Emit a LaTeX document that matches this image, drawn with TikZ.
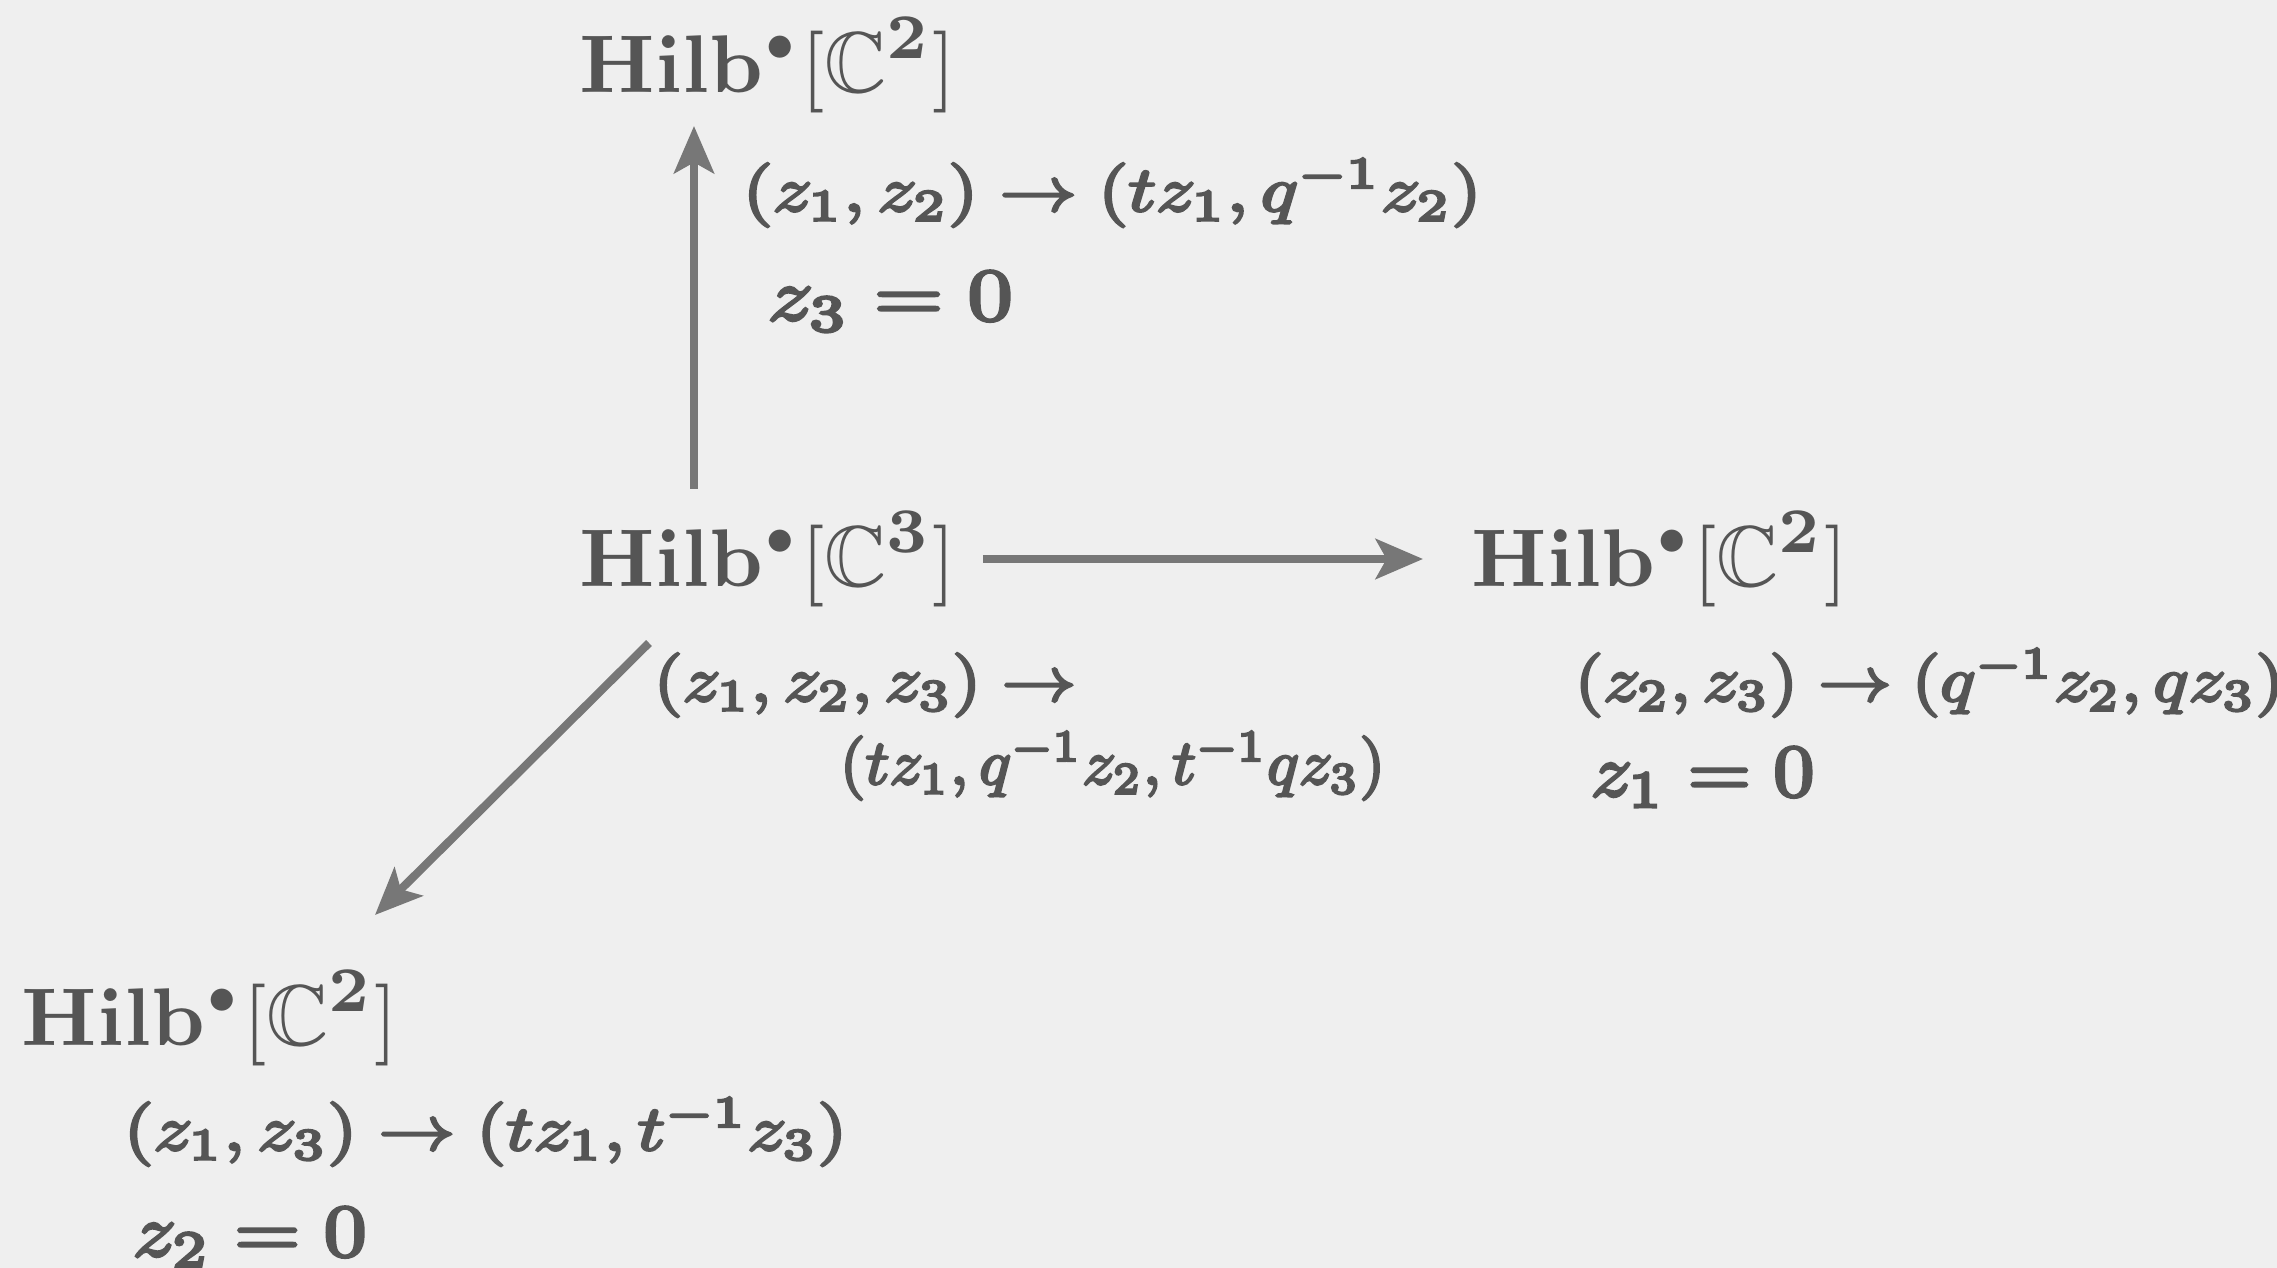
\documentclass[tikz,border=0pt]{standalone}
\usepackage{amsmath,amssymb,graphicx}
\usetikzlibrary{arrows.meta}
\definecolor{bgc}{HTML}{EFEFEF}
\definecolor{txt}{HTML}{555555}
\definecolor{arr}{HTML}{777777}
\newcommand{\fkb}[1]{\special{pdf:literal direct 2 Tr 0.4 w}#1\special{pdf:literal direct 0 Tr}}
\newcommand{\HilbC}[1]{$\mathbf{Hilb}^{\scriptscriptstyle\bullet}[\mathbb{C}^{\mathbf{#1}}]$}
\newcommand{\lbl}[3]{\scalebox{#1}[#2]{\fkb{#3}}}
\begin{document}
\begin{tikzpicture}[x=0.11pt,y=-0.11pt,
  hilb/.style={anchor=base west,inner sep=0pt,text=txt,font=\fontsize{9.5}{11}\selectfont},
  lab/.style={anchor=base west,inner sep=0pt,text=txt,font=\fontsize{10}{12}\selectfont},
  conn/.style={draw=arr,line width=0.9pt,-{Stealth[length=5.2pt,width=4.4pt,inset=1.2pt]}}]
\fill[bgc] (0,0) rectangle (2277,1268);
\useasboundingbox (0,0) rectangle (2277,1268);
% connectors
\coordinate (upS) at (694,489);
\coordinate (upE) at (694,126);
\coordinate (rS) at (983,559);
\coordinate (rE) at (1423,559);
\coordinate (dS) at (649,643);
\coordinate (dE) at (375,915);
\draw[conn] (upS) -- (upE);
\draw[conn] (rS) -- (rE);
\draw[conn] (dS) -- (dE);
% main nodes
\node[hilb] (ht) at (578,93) {\HilbC{2}};
\node[hilb] (hc) at (578,587) {\HilbC{3}};
\node[hilb] (hr) at (1470,587) {\HilbC{2}};
\node[hilb] (hb) at (20,1046) {\HilbC{2}};
% labels
\node[lab] (lt) at (741,211) {\lbl{0.849}{0.7}{$(z_1,z_2)\to(tz_1,q^{-1}z_2)$}};
\node[lab] (et) at (766,320) {\lbl{0.98}{0.815}{$z_3=0$}};
\node[lab] (lc1) at (652,701) {\lbl{0.817}{0.7}{$(z_1,z_2,z_3)\to$}};
\node[lab] (lc2) at (838,784) {\lbl{0.728}{0.7}{$(tz_1,q^{-1}z_2,t^{-1}qz_3)$}};
\node[lab] (lr) at (1573,701) {\lbl{0.805}{0.7}{$(z_2,z_3)\to(q^{-1}z_2,qz_3)$}};
\node[lab] (er) at (1589,796) {\lbl{0.895}{0.815}{$z_1=0$}};
\node[lab] (lb) at (122,1150) {\lbl{0.842}{0.7}{$(z_1,z_3)\to(tz_1,t^{-1}z_3)$}};
\node[lab] (eb) at (131,1256) {\lbl{0.936}{0.815}{$z_2=0$}};
\end{tikzpicture}
\end{document}
